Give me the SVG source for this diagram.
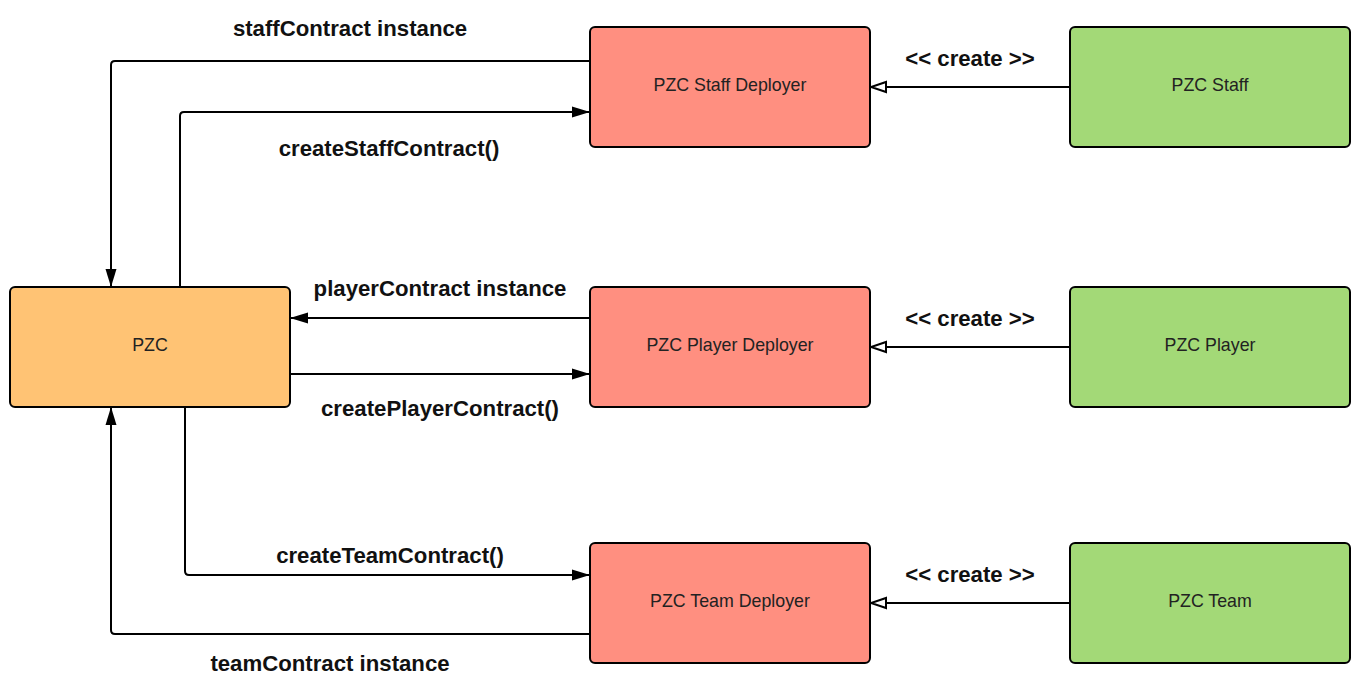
<svg xmlns="http://www.w3.org/2000/svg" width="1360" height="692" viewBox="0 0 1360 692">
<style>
.node rect{stroke:#000;stroke-width:2}
.pzc rect{fill:#FFC374}
.dep rect{fill:#FF8F80}
.src rect{fill:#A3D977}
.node text{font-family:"Liberation Sans",Arial,sans-serif;font-size:17.8px;fill:#222;text-anchor:middle}
.conn path{fill:none;stroke:#000;stroke-width:2}
.lbl{font-family:"Liberation Sans",Arial,sans-serif;font-size:22.2px;font-weight:bold;fill:#111;text-anchor:middle}
</style>
<defs>
<marker id="arrow" markerUnits="userSpaceOnUse" markerWidth="20" markerHeight="14" viewBox="0 0 20 14" refX="18" refY="7" orient="auto">
<path d="M0,1.5 L18,7 L0,12.5 z" fill="#000"/>
</marker>
<marker id="open" markerUnits="userSpaceOnUse" markerWidth="20" markerHeight="14" viewBox="-2 -7 20 14" refX="0" refY="0" orient="auto">
<path d="M0,-5 L15,0 L0,5 z" fill="#fff" stroke="#000" stroke-width="2"/>
</marker>
</defs>
<rect width="1360" height="692" fill="#fff"/>
<g id="connectors" class="conn">
<path d="M590,61 H115 Q111,61 111,65 V287" marker-end="url(#arrow)"/>
<path d="M180,287 V116 Q180,112 184,112 H590" marker-end="url(#arrow)"/>
<path d="M590,318 H290" marker-end="url(#arrow)"/>
<path d="M290,374 H590" marker-end="url(#arrow)"/>
<path d="M185,407 V571 Q185,575 189,575 H590" marker-end="url(#arrow)"/>
<path d="M590,634 H115 Q111,634 111,630 V407" marker-end="url(#arrow)"/>
<path d="M1070,87 H886" marker-end="url(#open)"/>
<path d="M1070,347 H886" marker-end="url(#open)"/>
<path d="M1070,603 H886" marker-end="url(#open)"/>
</g>
<g id="labels">
<text class="lbl" x="350" y="36">staffContract instance</text>
<text class="lbl" x="389" y="156">createStaffContract()</text>
<text class="lbl" x="440" y="296">playerContract instance</text>
<text class="lbl" x="440" y="416">createPlayerContract()</text>
<text class="lbl" x="390" y="563">createTeamContract()</text>
<text class="lbl" x="330" y="671">teamContract instance</text>
<text class="lbl" x="970" y="66">&lt;&lt; create &gt;&gt;</text>
<text class="lbl" x="970" y="326">&lt;&lt; create &gt;&gt;</text>
<text class="lbl" x="970" y="582">&lt;&lt; create &gt;&gt;</text>
</g>
<g id="node-pzc" class="node pzc"><rect x="10" y="287" width="280" height="120" rx="5"/><text x="150" y="351">PZC</text></g>
<g id="node-staff-deployer" class="node dep"><rect x="590" y="27" width="280" height="120" rx="5"/><text x="730" y="91">PZC Staff Deployer</text></g>
<g id="node-player-deployer" class="node dep"><rect x="590" y="287" width="280" height="120" rx="5"/><text x="730" y="351">PZC Player Deployer</text></g>
<g id="node-team-deployer" class="node dep"><rect x="590" y="543" width="280" height="120" rx="5"/><text x="730" y="607">PZC Team Deployer</text></g>
<g id="node-staff" class="node src"><rect x="1070" y="27" width="280" height="120" rx="5"/><text x="1210" y="91">PZC Staff</text></g>
<g id="node-player" class="node src"><rect x="1070" y="287" width="280" height="120" rx="5"/><text x="1210" y="351">PZC Player</text></g>
<g id="node-team" class="node src"><rect x="1070" y="543" width="280" height="120" rx="5"/><text x="1210" y="607">PZC Team</text></g>
</svg>
